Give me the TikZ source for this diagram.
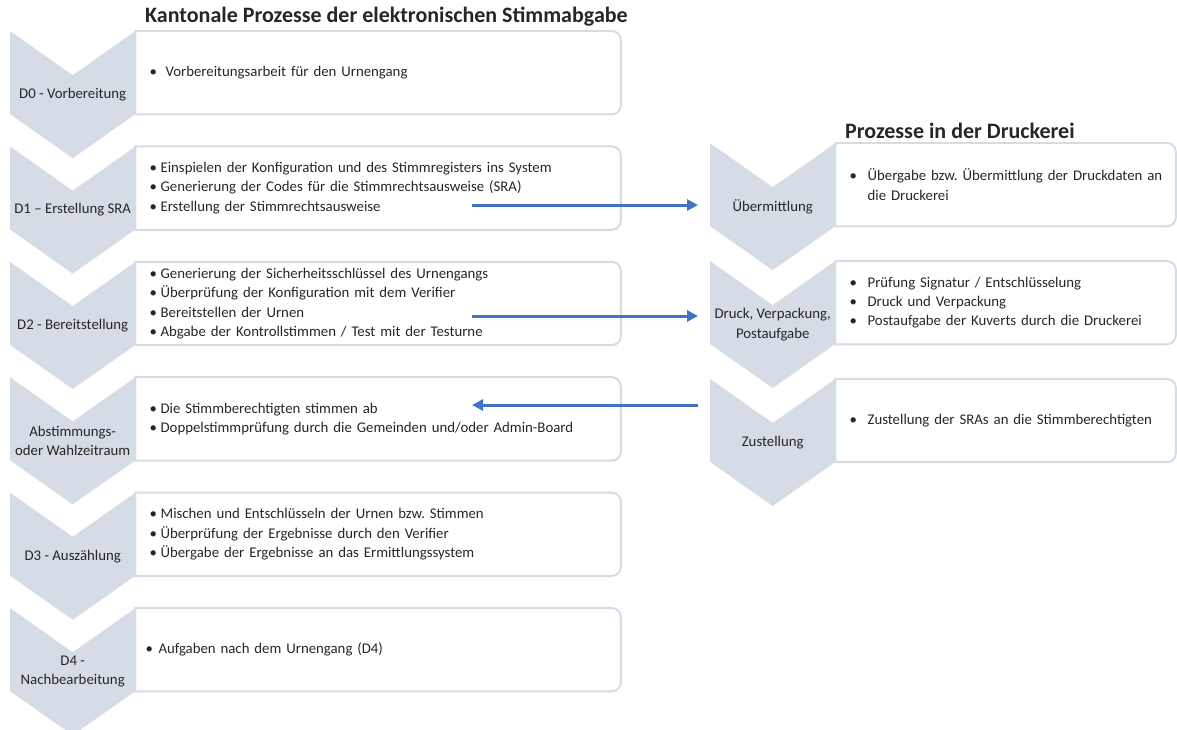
\documentclass[tikz,border=0pt]{standalone}
\usepackage{fontspec}
\setmainfont{Carlito}
\usetikzlibrary{arrows.meta,positioning,calc}
\definecolor{ink}{HTML}{262626}
\definecolor{chevfill}{HTML}{D6DCE5}
\definecolor{boxedge}{HTML}{D6DCE5}
\definecolor{flowblue}{HTML}{4472C4}
\newcommand\bul[1][11pt]{\makebox[#1][l]{\textbullet}}
\frenchspacing
\tikzset{
  every node/.style={text=ink,font=\fontsize{14.8}{19.3}\selectfont},
  chev/.style={minimum width=125pt,minimum height=127pt,inner sep=0pt,align=center,
    path picture={\fill[chevfill]
      (path picture bounding box.north west)
      -- ($(path picture bounding box.north)+(0pt,-44pt)$)
      -- (path picture bounding box.north east)
      -- ($(path picture bounding box.south east)+(0pt,44pt)$)
      -- (path picture bounding box.south)
      -- ($(path picture bounding box.south west)+(0pt,44pt)$)
      -- cycle;}},
  box/.style={anchor=north west,minimum width=485pt,minimum height=83pt,inner xsep=14pt,inner ysep=0pt,text width=457pt,align=left},
  rbox/.style={box,minimum width=340pt,text width=312pt},
  boxline/.style={draw=boxedge,line width=2pt},
  heading/.style={anchor=west,inner sep=0pt,font=\fontsize{22}{26}\selectfont\bfseries},
  flow/.style={draw=flowblue,line width=3pt,-{Triangle[length=11pt,width=11pt]}}
}
\begin{document}
\begin{tikzpicture}[x=1pt,y=-1pt]
  \useasboundingbox (0,0) rectangle (1177,729);

  % kantonale Prozesse
  \node[heading] (ttlk) at (145,17) {Kantonale Prozesse der elektronischen Stimmabgabe};
  \node[chev,anchor=north west] (d0) at (10,31) {D0 - Vorbereitung};
  \node[chev,below=-12pt of d0] (d1) {D1 -- Erstellung SRA};
  \node[chev,below=-12pt of d1] (d2) {D2 - Bereitstellung};
  \node[chev,below=-12pt of d2] (d3) {Abstimmungs-\\oder Wahlzeitraum};
  \node[chev,below=-12pt of d3] (d4) {D3 - Auszählung};
  \node[chev,below=-12pt of d4] (d5) {D4 -\\Nachbearbeitung};

  \node[box] (b0) at (d0.north east) {\bul[16pt]Vorbereitungsarbeit für den Urnengang};
  \node[box] (b1) at (d1.north east) {\bul Einspielen der Konfiguration und des Stimmregisters ins System\\
    \bul Generierung der Codes für die Stimmrechtsausweise (SRA)\\
    \bul Erstellung der Stimmrechtsausweise};
  \node[box] (b2) at (d2.north east) {\bul Generierung der Sicherheitsschlüssel des Urnengangs\\
    \bul Überprüfung der Konfiguration mit dem Verifier\\
    \bul Bereitstellen der Urnen\\
    \bul Abgabe der Kontrollstimmen / Test mit der Testurne};
  \node[box] (b3) at (d3.north east) {\bul Die Stimmberechtigten stimmen ab\\
    \bul Doppelstimmprüfung durch die Gemeinden und/oder Admin-Board};
  \node[box] (b4) at (d4.north east) {\bul Mischen und Entschlüsseln der Urnen bzw. Stimmen\\
    \bul Überprüfung der Ergebnisse durch den Verifier\\
    \bul Übergabe der Ergebnisse an das Ermittlungssystem};
  \node[box,inner xsep=10pt,text width=465pt] (b5) at (d5.north east) {\bul[13pt]Aufgaben nach dem Urnengang (D4)};

  % Druckerei
  \node[heading] (ttld) at (845,131) {Prozesse in der Druckerei};
  \node[chev,anchor=north west] (p0) at (710,143) {Übermittlung};
  \node[chev,below=-9.5pt of p0] (p1) {Druck, Verpackung,\\Postaufgabe};
  \node[chev,below=-9.5pt of p1] (p2) {Zustellung};

  \node[rbox] (q0) at (p0.north east) {\mbox{\bul[18pt]Übergabe bzw. Übermittlung der Druckdaten an}\\
    \hspace*{18pt}die Druckerei};
  \node[rbox] (q1) at (p1.north east) {\bul[18pt]Prüfung Signatur / Entschlüsselung\\
    \bul[18pt]Druck und Verpackung\\
    \bul[18pt]Postaufgabe der Kuverts durch die Druckerei};
  \node[rbox] (q2) at (p2.north east) {\bul[18pt]Zustellung der SRAs an die Stimmberechtigten};

  \foreach \b in {b0,b1,b2,b3,b4,b5,q0,q1,q2}
    \draw[boxline] (\b.north west) [rounded corners=9pt] -- (\b.north east) -- (\b.south east)
      [sharp corners] -- (\b.south west) -- cycle;

  % Datenfluss
  \coordinate (s1) at (472,205);
  \coordinate (s2) at (472,316);
  \coordinate (s3) at (472,405);
  \draw[flow,shorten >=12pt] (s1) -- (s1 -| p0.west);
  \draw[flow,shorten >=12pt] (s2) -- (s2 -| p1.west);
  \draw[flow,shorten <=12pt] (s3 -| p2.west) -- (s3);
\end{tikzpicture}
\end{document}
